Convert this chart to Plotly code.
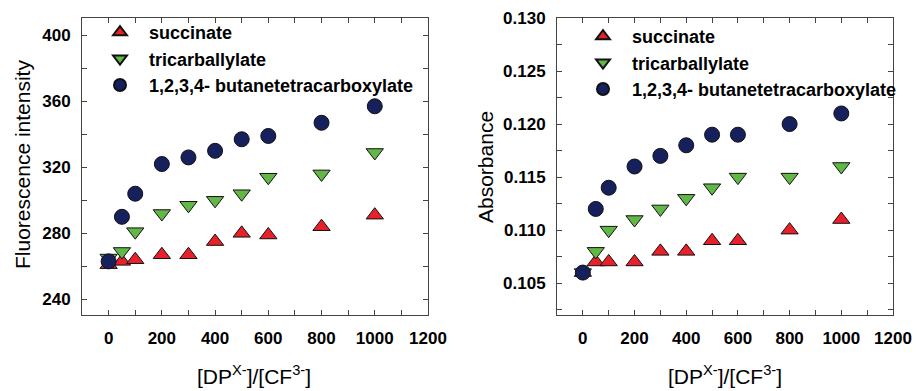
import plotly.graph_objects as go

# ---------------- data ----------------
ratio = [0, 50, 100, 200, 300, 400, 500, 600, 800, 1000]

fl_succinate = [261, 263, 264, 267, 267, 275, 280, 279, 284, 291]
fl_tricarb = [265, 269, 281, 292, 297, 300, 304, 314, 316, 329]
fl_butane = [263, 290, 304, 322, 326, 330, 337, 339, 347, 357]

ab_succinate = [0.106, 0.107, 0.107, 0.107, 0.108, 0.108, 0.109, 0.109, 0.110, 0.111]
ab_tricarb = [0.106, 0.108, 0.110, 0.111, 0.112, 0.113, 0.114, 0.115, 0.115, 0.116]
ab_butane = [0.106, 0.112, 0.114, 0.116, 0.117, 0.118, 0.119, 0.119, 0.120, 0.121]

series_names = ["succinate", "tricarballylate", "1,2,3,4- butanetetracarboxylate"]

x_title = "[DP<sup>X-</sup>]/[CF<sup>3-</sup>]"
fl_title = "Fluorescence intensity"
ab_title = "Absorbance"

# ---------------- style ----------------
W, H = 917, 391
FONT = "Liberation Sans, Arial, sans-serif"
RED = "#E8202A"
GREEN = "#62B847"
NAVY = "#16205C"
symbols = ["triangle-up", "triangle-down", "circle"]
colors = [RED, GREEN, NAVY]
sizes = [15, 15, 15]

fig = go.Figure()

left_sets = [fl_succinate, fl_tricarb, fl_butane]
right_sets = [ab_succinate, ab_tricarb, ab_butane]

for i in range(3):
    fig.add_trace(go.Scatter(
        x=ratio, y=left_sets[i], mode="markers", name=series_names[i],
        marker=dict(symbol=symbols[i], size=sizes[i], color=colors[i],
                    line=dict(color="#111111", width=1)),
        xaxis="x", yaxis="y", legend="legend"))
for i in range(3):
    fig.add_trace(go.Scatter(
        x=ratio, y=right_sets[i], mode="markers", name=series_names[i],
        marker=dict(symbol=symbols[i], size=sizes[i], color=colors[i],
                    line=dict(color="#111111", width=1)),
        xaxis="x2", yaxis="y2", legend="legend2"))

def px_x(p):
    return p / W

def px_y(p):
    return 1 - p / H

tickfont = dict(family=FONT, size=17, color="black", weight="bold")
LINE = "#444444"

def axis_style(dtick, minor_dtick, standoff):
    return dict(tickmode="linear", dtick=dtick,
                ticks="inside", ticklen=5, tickcolor=LINE, showline=True, linecolor=LINE,
                linewidth=1, mirror="ticks", showgrid=False, zeroline=False,
                tickfont=tickfont, ticklabelstandoff=standoff, automargin=False,
                minor=dict(ticks="inside", dtick=minor_dtick, ticklen=5, tickcolor=LINE,
                           showgrid=False))

legend_font = dict(family=FONT, size=18, color="black", weight="bold")

fig.update_layout(
    width=W, height=H, autosize=False,
    margin=dict(l=0, r=0, t=0, b=0, pad=0, autoexpand=False),
    paper_bgcolor="white", plot_bgcolor="white",
    font=dict(family=FONT, color="black"),
    xaxis=dict(domain=[px_x(82), px_x(428)], anchor="y", range=[-100, 1200], tick0=0,
               **axis_style(200, 100, 8)),
    xaxis2=dict(domain=[px_x(557), px_x(893)], anchor="y2", range=[-100, 1200], tick0=0,
                **axis_style(200, 100, 8)),
    yaxis=dict(domain=[px_y(315), px_y(18)], anchor="x", range=[230.5, 410.5], tick0=0,
               **axis_style(40, 20, 7)),
    yaxis2=dict(domain=[px_y(315), px_y(18)], anchor="x2", range=[0.102, 0.130], tick0=0,
                tickformat=".3f", **axis_style(0.005, 0.0025, 7)),
    legend=dict(x=px_x(91), y=px_y(14), xanchor="left", yanchor="top",
                bgcolor="rgba(0,0,0,0)", borderwidth=0, font=legend_font,
                itemwidth=48, itemsizing="constant", tracegroupgap=0),
    legend2=dict(x=px_x(574), y=px_y(18), xanchor="left", yanchor="top",
                 bgcolor="rgba(0,0,0,0)", borderwidth=0, font=legend_font,
                 itemwidth=48, itemsizing="constant", tracegroupgap=0),
    showlegend=True,
)

annots = [
    dict(text=fl_title, x=px_x(22), y=px_y(165), textangle=-90, size=21),
    dict(text=ab_title, x=px_x(485), y=px_y(167), textangle=-90, size=21),
    dict(text=x_title, x=px_x(254), y=px_y(375), textangle=0, size=21),
    dict(text=x_title, x=px_x(725), y=px_y(375), textangle=0, size=21),
]
for a in annots:
    fig.add_annotation(text=a["text"], x=a["x"], y=a["y"], xref="paper", yref="paper",
                       xanchor="center", yanchor="middle", showarrow=False,
                       textangle=a["textangle"],
                       font=dict(family=FONT, size=a["size"], color="black"))

fig.write_html(
    "out.html",
    config={"displayModeBar": False, "responsive": False},
    post_script=("document.documentElement.style.margin='0px';"
                 "document.body.style.margin='0px';"
                 "document.body.style.overflow='hidden';"
                 "document.documentElement.style.overflow='hidden';"),
)
